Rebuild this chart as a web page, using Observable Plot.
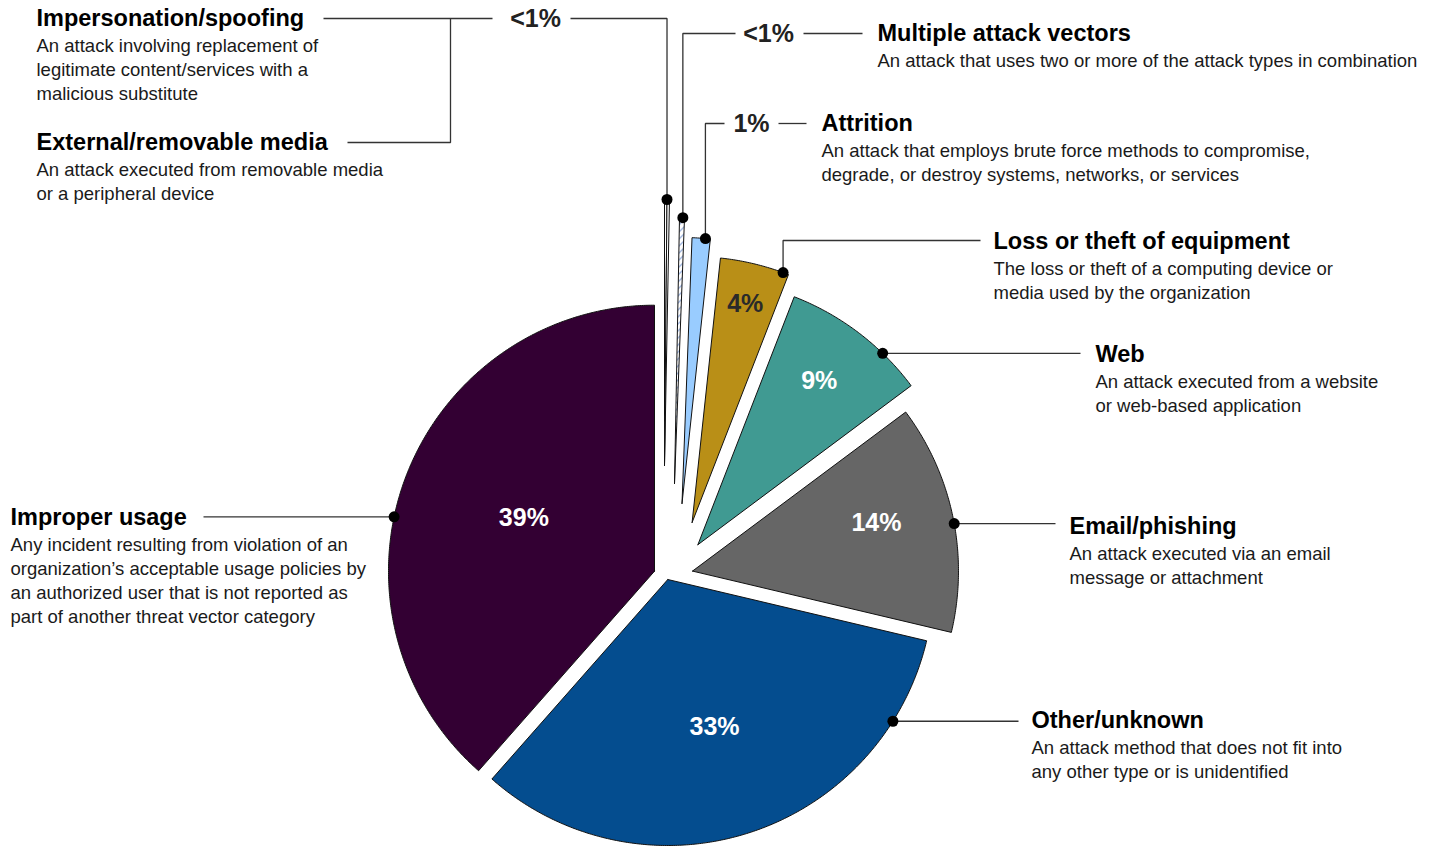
<!DOCTYPE html>
<html><head><meta charset="utf-8">
<script src="https://cdn.jsdelivr.net/npm/d3@7"></script>
<script src="https://cdn.jsdelivr.net/npm/@observablehq/plot@0.6"></script>
<style>body{margin:0;background:#fff;}</style>
</head><body><div id="chart"></div>
<script>
// ---------- DATA ----------
const categories = ["Impersonation/spoofing","External/removable media","Multiple attack vectors","Attrition","Loss or theft of equipment","Web","Email/phishing","Other/unknown","Improper usage"];
const shares = [0.15, 0.15, 0.3, 1.1, 4.2, 8.9, 13.9, 32.8, 38.5];
const shareLabels = ["<1%","<1%","<1%","1%","4%","9%","14%","33%","39%"];
const descriptions = [
  "An attack involving replacement of\nlegitimate content/services with a\nmalicious substitute",
  "An attack executed from removable media\nor a peripheral device",
  "An attack that uses two or more of the attack types in combination",
  "An attack that employs brute force methods to compromise,\ndegrade, or destroy systems, networks, or services",
  "The loss or theft of a computing device or\nmedia used by the organization",
  "An attack executed from a website\nor web-based application",
  "An attack executed via an email\nmessage or attachment",
  "An attack method that does not fit into\nany other type or is unidentified",
  "Any incident resulting from violation of an\norganization\u2019s acceptable usage policies by\nan authorized user that is not reported as\npart of another threat vector category"
];

// ---------- STYLE / LAYOUT ----------
const colors = ["#ffffff","#ffffff","url(#hatch)","#99ccff","#b98f17","#409a92","#666666","#044d8f","#330033"];
const labelColors = [null,null,null,null,"#2a2a2a","#ffffff","#ffffff","#ffffff","#ffffff"];
const W = 1433, H = 846, CX = 665, CY = 574, R = 266;
const explode = [[-1,-109],[-1,-109],[9,-91],[16.5,-71],[26.6,-52],[32.4,-29.8],[27,-3.4],[2.3,5],[-11,-3.3]];
const labelRadius = [0,0,0,0,0.845,0.765,0.715,0.58,0.53];
const labelFrac = [0.5,0.5,0.5,0.5,0.5,0.48,0.44,0.5,0.51];
const anchorAngle = [0.54, 0.54, 1.8, 5.05, 20, 44, 79.7, 122.2, 281.8];
const titlePos = [[36,18],[36,142],[877,33],[821,123],[993,241],[1095,354],[1069,526],[1031,720],[10,517]];
const FONT = "'Liberation Sans', Arial, Helvetica, sans-serif";

// ---------- GEOMETRY ----------
const deg = Math.PI / 180;
const arcs = d3.pie().sort(null).value(d => d)(shares);
const slices = arcs.map((a, i) => ({
  i, name: categories[i], a0: a.startAngle, a1: a.endAngle,
  mid: (a.startAngle + a.endAngle) / 2,
  ax: CX + explode[i][0], ay: CY + explode[i][1], color: colors[i]
}));
const pt = (s, ang, r) => ({x: s.ax + r * Math.sin(ang), y: s.ay - r * Math.cos(ang)});

const wedgePts = slices.flatMap(s => {
  const n = Math.max(2, Math.ceil((s.a1 - s.a0) / (0.4 * deg)));
  const pts = [{x: s.ax, y: s.ay}];
  for (let k = 0; k <= n; k++) pts.push(pt(s, s.a0 + (s.a1 - s.a0) * k / n, R));
  pts.push({x: s.ax, y: s.ay});
  return pts.map(p => ({...p, key: s.name, color: s.color}));
});

const innerLabels = slices.filter(s => labelRadius[s.i] > 0).map(s => ({
  ...pt(s, s.a0 + (s.a1 - s.a0) * labelFrac[s.i], labelRadius[s.i] * R), text: shareLabels[s.i], color: labelColors[s.i]
}));

const anchor = i => pt(slices[i], anchorAngle[i] * deg, R);
const dotIdx = [0,2,3,4,5,6,7,8];
const dots = dotIdx.map(anchor);

const A = dotIdx.reduce((o, i) => (o[i] = anchor(i), o), {});
const leaders = [
  [A[0], {x: A[0].x, y: 18}, {x: 570, y: 18}],
  [{x: 323, y: 18}, {x: 492, y: 18}],
  [{x: 450, y: 18}, {x: 450, y: 142}, {x: 347, y: 142}],
  [A[2], {x: A[2].x, y: 33}, {x: 735, y: 33}],
  [{x: 803, y: 33}, {x: 862, y: 33}],
  [A[3], {x: A[3].x, y: 123}, {x: 724, y: 123}],
  [{x: 778, y: 123}, {x: 806, y: 123}],
  [A[4], {x: A[4].x, y: 240}, {x: 980, y: 240}],
  [A[5], {x: 1080, y: A[5].y}],
  [A[6], {x: 1055, y: A[6].y}],
  [A[7], {x: 1018, y: A[7].y}],
  [A[8], {x: 203, y: A[8].y}]
].flatMap((line, k) => line.map(p => ({...p, k})));

const callouts = [
  {x: 535, y: 18, text: shareLabels[0]},
  {x: 768, y: 33, text: shareLabels[2]},
  {x: 751, y: 123, text: shareLabels[3]}
];

const titles = categories.map((c, i) => ({x: titlePos[i][0], y: titlePos[i][1], text: c}));
const descLines = descriptions.flatMap((d, i) => d.split("\n").map((line, j) => ({
  x: titlePos[i][0], y: titlePos[i][1] + 28 + j * 23.7, text: line
})));

// ---------- PLOT ----------
const svg = Plot.plot({
  width: W, height: H, margin: 0,
  x: {domain: [0, W], range: [0, W], axis: null},
  y: {domain: [0, H], range: [0, H], axis: null},
  color: {type: "identity"},
  style: {background: "#fff", fontFamily: FONT, overflow: "visible"},
  marks: [
    Plot.line(wedgePts, {x: "x", y: "y", z: "key", fill: "color", stroke: "#111", strokeWidth: 1, strokeLinejoin: "miter", strokeMiterlimit: 2}),
    Plot.line(leaders, {x: "x", y: "y", z: "k", stroke: "#333", strokeWidth: 1.3, strokeLinejoin: "miter", strokeLinecap: "butt"}),
    Plot.dot(dots, {x: "x", y: "y", r: 5.5, fill: "#000", stroke: "none"}),
    Plot.text(innerLabels, {x: "x", y: "y", text: "text", fill: "color", fontSize: 25, fontWeight: "bold", textAnchor: "middle", lineAnchor: "middle"}),
    Plot.text(callouts, {x: "x", y: "y", text: "text", fill: "#222", fontSize: 25, fontWeight: "bold", textAnchor: "middle", lineAnchor: "middle"}),
    Plot.text(titles, {x: "x", y: "y", text: "text", fill: "#000", fontSize: 23.5, fontWeight: "bold", textAnchor: "start", lineAnchor: "middle"}),
    Plot.text(descLines, {x: "x", y: "y", text: "text", fill: "#1a1a1a", fontSize: 18.5, textAnchor: "start", lineAnchor: "middle"})
  ]
});

const ns = "http://www.w3.org/2000/svg";
const defs = document.createElementNS(ns, "defs");
defs.innerHTML = '<pattern id="hatch" patternUnits="userSpaceOnUse" width="7" height="7"><rect width="7" height="7" fill="#ffffff"/><path d="M-1,8 L8,-1" stroke="#4a72c0" stroke-width="1"/></pattern>';
svg.insertBefore(defs, svg.firstChild);
document.getElementById("chart").appendChild(svg);
</script>
</body></html>
